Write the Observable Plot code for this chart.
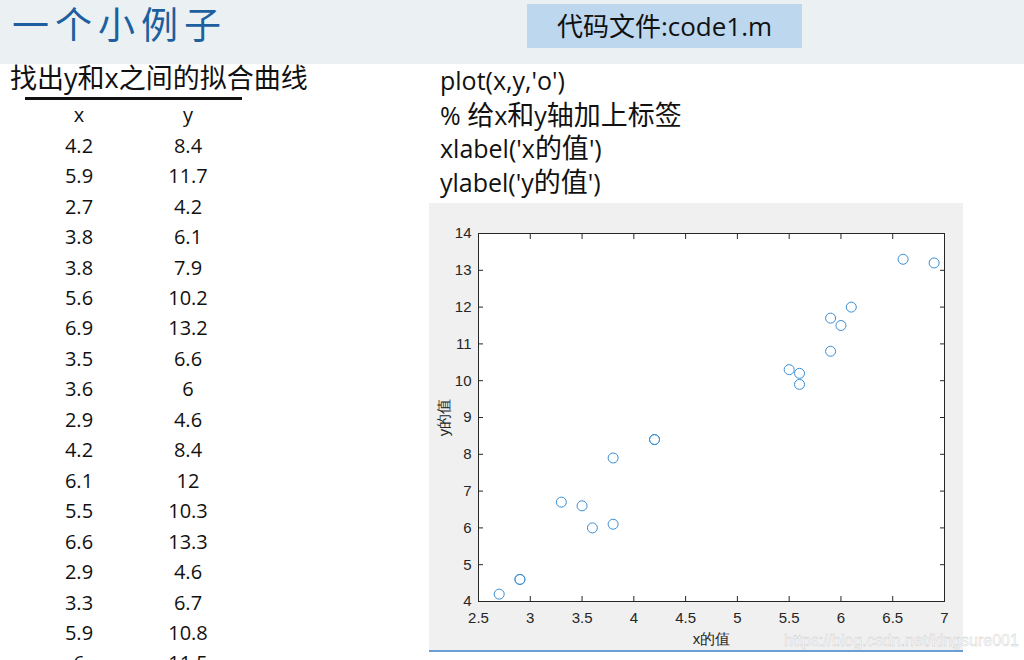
<!DOCTYPE html>
<html>
<head>
<meta charset="utf-8">
<script src="https://cdn.jsdelivr.net/npm/d3@7"></script>
<script src="https://cdn.jsdelivr.net/npm/@observablehq/plot@0.6"></script>
<style>
  html, body { margin: 0; padding: 0; background: #fff; }
  #page { position: relative; width: 1024px; height: 660px; overflow: hidden; background: #fff; }
  .abs { position: absolute; white-space: nowrap; }
  #banner { left: 0; top: 0; width: 1024px; height: 64px; background: #EBF1F2; }
  #title { left: 12px; top: 0px; font-family: "Noto Sans CJK SC", sans-serif; font-size: 37px; line-height: 46px; color: #1D5F9F; letter-spacing: 6px; }
  #codebox { left: 527px; top: 4px; width: 275px; height: 44px; background: #BDD7EE; font-family: "Open Sans", "Noto Sans CJK SC", sans-serif; font-size: 26px; line-height: 44px; text-align: center; color: #111; }
  #subtitle { left: 10px; top: 60px; font-family: "Open Sans", "Noto Sans CJK SC", sans-serif; font-size: 27px; line-height: 36px; color: #111; }
  #underline { left: 25px; top: 97px; width: 217px; height: 3px; background: #111; }
  .cell { font-family: "Open Sans", "Noto Sans CJK SC", sans-serif; font-size: 20px; color: #111; text-align: center; width: 80px; line-height: 30.45px; }
  .code { left: 440px; font-family: "Open Sans", "Noto Sans CJK SC", sans-serif; font-size: 25px; line-height: 33.5px; color: #111; }
  .code .cjk { font-size: 1.08em; }
  #figure { left: 429px; top: 203px; width: 534px; height: 447px; background: #F0F0F0; }
  #figline { left: 429px; top: 650px; width: 534px; height: 2px; background: #6A9FD3; }
  #watermark { left: 784px; top: 631px; font-family: "Liberation Sans", Arial, sans-serif; font-size: 16px; line-height: 20px; color: rgba(255,255,255,0.92); -webkit-text-stroke: 0.35px #c4c4c4; }
</style>
</head>
<body>
<div id="page">
  <div id="banner" class="abs"></div>
  <div id="title" class="abs">一个小例子</div>
  <div id="codebox" class="abs">代码文件:code1.m</div>
  <div id="subtitle" class="abs">找出y和x之间的拟合曲线</div>
  <div id="underline" class="abs"></div>
  <div id="figure" class="abs"></div>
  <div id="figline" class="abs"></div>
  <div id="watermark" class="abs">https://blog.csdn.net/kingsure001</div>
</div>
<script>
// Table rows shown on the slide (the last one is cut off by the slide edge)
const tableX = [4.2, 5.9, 2.7, 3.8, 3.8, 5.6, 6.9, 3.5, 3.6, 2.9, 4.2, 6.1, 5.5, 6.6, 2.9, 3.3, 5.9, 6];
const tableY = [8.4, 11.7, 4.2, 6.1, 7.9, 10.2, 13.2, 6.6, 6, 4.6, 8.4, 12, 10.3, 13.3, 4.6, 6.7, 10.8, 11.5];
// Rows beyond the visible part of the table that appear in the plot
const extraX = [5.6];
const extraY = [9.9];

const codeLines = ["plot(x,y,'o')", "% 给x和y轴加上标签", "xlabel('x的值')", "ylabel('y的值')"];
const xTicks = [2.5, 3, 3.5, 4, 4.5, 5, 5.5, 6, 6.5, 7];
const yTicks = [4, 5, 6, 7, 8, 9, 10, 11, 12, 13, 14];
const xLabel = "x的值";
const yLabel = "y的值";

// Build HTML table
const page = document.getElementById("page");
function addCell(text, left, top) {
  const d = document.createElement("div");
  d.className = "abs cell";
  d.style.left = left + "px";
  d.style.top = top + "px";
  d.textContent = text;
  page.appendChild(d);
}
const rowH = 30.45;
addCell("x", 39, 116 - rowH / 2 - 1);
addCell("y", 148, 116 - rowH / 2 - 1);
tableX.forEach((v, i) => {
  addCell(String(v), 39, 146 + i * rowH - rowH / 2);
  addCell(String(tableY[i]), 148, 146 + i * rowH - rowH / 2);
});
codeLines.forEach((t, i) => {
  const d = document.createElement("div");
  d.className = "abs code";
  d.style.top = (64 + i * 33.5) + "px";
  // wrap CJK runs so they can be sized slightly larger, keeping everything as text
  const parts = t.split(/([\u4e00-\u9fff]+)/);
  parts.forEach(p => {
    if (!p) return;
    if (/[\u4e00-\u9fff]/.test(p)) {
      const s = document.createElement("span");
      s.className = "cjk";
      s.textContent = p;
      d.appendChild(s);
    } else {
      d.appendChild(document.createTextNode(p));
    }
  });
  page.appendChild(d);
});

// Plot data
const xs = tableX.concat(extraX);
const ys = tableY.concat(extraY);
const points = xs.map((x, i) => ({x, y: ys[i]}));

const axisColor = "#262626";
const tickFont = "Liberation Sans, Arial, sans-serif";

const chart = Plot.plot({
  width: 534,
  height: 447,
  marginLeft: 49,
  marginRight: 19,
  marginTop: 30,
  marginBottom: 49,
  style: { background: "transparent", color: axisColor, fontFamily: tickFont, fontSize: "15px" },
  x: { domain: [2.5, 7] },
  y: { domain: [4, 14] },
  marks: [
    Plot.frame({ fill: "white", stroke: null }),
    Plot.dot(points, { x: "x", y: "y", r: 5, stroke: "#3A8FD4", strokeWidth: 1, fill: "none" }),
    Plot.axisX({ anchor: "bottom", ticks: xTicks, tickSize: -5, tickPadding: 16, tickFormat: d => String(d),
      label: xLabel, labelAnchor: "center", labelOffset: 42, labelArrow: "none", fontSize: 15, stroke: axisColor, fill: axisColor, fontFamily: tickFont }),
    Plot.axisX({ anchor: "top", ticks: xTicks, tickSize: -5, tickFormat: () => "", label: null, stroke: axisColor }),
    Plot.axisY({ anchor: "left", ticks: yTicks, tickSize: -5, tickPadding: 12, tickFormat: d => String(d),
      label: yLabel, labelAnchor: "center", labelOffset: 40, labelArrow: "none", fontSize: 15, stroke: axisColor, fill: axisColor, fontFamily: tickFont }),
    Plot.axisY({ anchor: "right", ticks: yTicks, tickSize: -5, tickFormat: () => "", label: null, stroke: axisColor }),
    Plot.frame({ stroke: axisColor, strokeWidth: 1 })
  ]
});
document.getElementById("figure").appendChild(chart);
</script>
</body>
</html>
